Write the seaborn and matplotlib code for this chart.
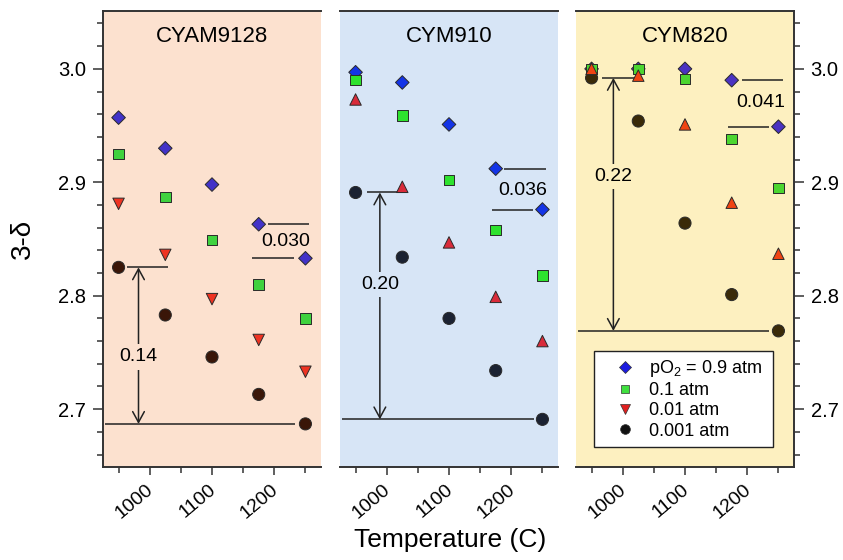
import numpy as np
import pandas as pd
import matplotlib
matplotlib.use("Agg")
import matplotlib.pyplot as plt
from matplotlib.lines import Line2D
from matplotlib.ticker import MultipleLocator, FormatStrFormatter
from matplotlib.transforms import ScaledTranslation
import seaborn as sns

# ---- data -------------------------------------------------------------
temperatures = [950, 1025, 1100, 1175, 1250]
po2_levels = ["0.9", "0.1", "0.01", "0.001"]
legend_labels = [r"pO$_2$ = 0.9 atm", "0.1 atm", "0.01 atm", "0.001 atm"]
samples = ["CYAM9128", "CYM910", "CYM820"]

cyam9128_09 = [2.957, 2.930, 2.898, 2.863, 2.833]
cyam9128_01 = [2.925, 2.887, 2.849, 2.810, 2.780]
cyam9128_001 = [2.881, 2.836, 2.797, 2.761, 2.733]
cyam9128_0001 = [2.825, 2.783, 2.746, 2.713, 2.687]

cym910_09 = [2.997, 2.988, 2.951, 2.912, 2.876]
cym910_01 = [2.990, 2.959, 2.902, 2.858, 2.818]
cym910_001 = [2.973, 2.896, 2.847, 2.799, 2.760]
cym910_0001 = [2.891, 2.834, 2.780, 2.734, 2.691]

cym820_09 = [3.000, 3.000, 3.000, 2.990, 2.949]
cym820_01 = [3.000, 3.000, 2.991, 2.938, 2.895]
cym820_001 = [3.000, 2.994, 2.951, 2.882, 2.837]
cym820_0001 = [2.992, 2.954, 2.864, 2.801, 2.769]

series = {
    "CYAM9128": {"0.9": cyam9128_09, "0.1": cyam9128_01, "0.01": cyam9128_001, "0.001": cyam9128_0001},
    "CYM910": {"0.9": cym910_09, "0.1": cym910_01, "0.01": cym910_001, "0.001": cym910_0001},
    "CYM820": {"0.9": cym820_09, "0.1": cym820_01, "0.01": cym820_001, "0.001": cym820_0001},
}

# ---- styling ----------------------------------------------------------
sns.set_theme(style="ticks")
plt.rcParams["font.family"] = ["Liberation Sans", "DejaVu Sans"]
plt.rcParams["mathtext.fontset"] = "custom"
plt.rcParams["mathtext.rm"] = "Liberation Sans"
plt.rcParams["mathtext.it"] = "Liberation Sans:italic"
for key in ["text.color", "axes.labelcolor", "xtick.labelcolor", "ytick.labelcolor"]:
    plt.rcParams[key] = "black"

panel_bg = ["#FCE1CF", "#D7E5F6", "#FDF0C0"]
panel_palettes = [
    {"0.9": "#4232C8", "0.1": "#3FD23F", "0.01": "#EE3322", "0.001": "#3A1608"},
    {"0.9": "#1434E6", "0.1": "#2EE22E", "0.01": "#D92B3A", "0.001": "#1B2232"},
    {"0.9": "#4A32C2", "0.1": "#4CD630", "0.01": "#F04412", "0.001": "#3A2A08"},
]
triangle_marker = ["v", "^", "^"]
marker_sizes = {"0.9": 48, "0.1": 58, "0.01": 68, "0.001": 76}
draw_order = ["0.001", "0.9", "0.1", "0.01"]

# bracket annotations (arrow x, top guide span, bottom guide span, label y)
left_arrow_x = [982, 989, 985]
left_top_span = [(963, 1029), (968, 1032), (966, 1021)]
left_bottom_span = [(929, 1234), (929, 1237), (929, 1235)]
left_label_y = [2.746, 2.810, 2.905]
right_upper_span = [(1190, 1256), (1189, 1255), (1192, 1258)]
right_lower_span = [(1165, 1231), (1169, 1235), (1169, 1235)]
right_label_xy = [(1218, 2.848), (1218, 2.893), (1221, 2.970)]

line_color = "#222222"
spine_color = "#333333"

fig = plt.figure(figsize=(8.43, 5.60), dpi=100)
lefts = [103 / 843, 340 / 843, 576 / 843]
width = 218 / 843
bottom = 1 - 467 / 560
height = (467 - 11) / 560
axes = [fig.add_axes([l, bottom, width, height]) for l in lefts]
label_shift = ScaledTranslation(-4 / 100, -2 / 100, fig.dpi_scale_trans)

for i, (ax, name) in enumerate(zip(axes, samples)):
    rows = []
    for lvl in draw_order:
        for t, v in zip(temperatures, series[name][lvl]):
            rows.append({"temperature": t, "value": v, "level": lvl})
    df = pd.DataFrame(rows)

    markers = {"0.9": "D", "0.1": "s", "0.01": triangle_marker[i], "0.001": "o"}
    ax.set_facecolor(panel_bg[i])
    sns.scatterplot(data=df, x="temperature", y="value", hue="level", style="level",
                    size="level", palette=panel_palettes[i], markers=markers,
                    sizes=marker_sizes, edgecolor="#2a2a2a", linewidth=0.7,
                    legend=False, ax=ax, zorder=3)

    ax.set_xlim(925, 1275)
    ax.set_ylim(2.649, 3.051)
    ax.set_xlabel("")
    ax.set_ylabel("")
    ax.xaxis.set_major_locator(MultipleLocator(100))
    ax.xaxis.set_minor_locator(MultipleLocator(50))
    ax.yaxis.set_major_locator(MultipleLocator(0.1))
    ax.yaxis.set_minor_locator(MultipleLocator(0.02))
    ax.yaxis.set_major_formatter(FormatStrFormatter("%.1f"))

    for side in ["top", "bottom", "left", "right"]:
        ax.spines[side].set_color(spine_color)
        ax.spines[side].set_linewidth(1.4)
    ax.spines["left"].set_visible(i == 0)
    ax.spines["right"].set_visible(i == 2)

    ax.tick_params(axis="x", which="major", length=6, width=1.1, color=spine_color,
                   labelsize=14, pad=3)
    ax.tick_params(axis="x", which="minor", length=4, width=1.1, color=spine_color)
    for lab in ax.get_xticklabels():
        lab.set_rotation(40)
        lab.set_ha("right")
        lab.set_va("top")
        lab.set_rotation_mode("anchor")
        lab.set_transform(lab.get_transform() + label_shift)

    if i == 0:
        ax.tick_params(axis="y", which="both", left=True, right=False, labelleft=True,
                       labelright=False, color=spine_color, width=1.1)
    elif i == 2:
        ax.yaxis.tick_right()
        ax.tick_params(axis="y", which="both", left=False, right=True, labelleft=False,
                       labelright=True, color=spine_color, width=1.1)
    else:
        ax.tick_params(axis="y", which="both", left=False, right=False,
                       labelleft=False, labelright=False)
    ax.tick_params(axis="y", which="major", length=7, labelsize=14.5, pad=5)
    ax.tick_params(axis="y", which="minor", length=4)

    ax.text(0.5, 0.945, name, transform=ax.transAxes, ha="center", va="center",
            fontsize=16)

    # total span at 950 C / 0.001 atm to 1250 C / 0.001 atm
    low = series[name]["0.001"]
    top_v, bot_v = low[0], low[-1]
    ax.hlines(top_v, *left_top_span[i], color=line_color, lw=1.1, zorder=2)
    ax.hlines(bot_v, *left_bottom_span[i], color=line_color, lw=1.1, zorder=2)
    ax.annotate("", xy=(left_arrow_x[i], bot_v), xytext=(left_arrow_x[i], top_v),
                arrowprops=dict(arrowstyle="<->,head_length=0.55,head_width=0.3",
                                lw=1.1, color=line_color, shrinkA=0, shrinkB=0,
                                mutation_scale=14), zorder=2)
    ax.text(left_arrow_x[i], left_label_y[i], f"{top_v - bot_v:.2f}", ha="center",
            va="center", fontsize=14, zorder=4,
            bbox=dict(facecolor=panel_bg[i], edgecolor="none", pad=3))

    # step between 1175 C and 1250 C at 0.9 atm
    hi = series[name]["0.9"]
    ax.hlines(hi[3], *right_upper_span[i], color=line_color, lw=1.1, zorder=2)
    ax.hlines(hi[4], *right_lower_span[i], color=line_color, lw=1.1, zorder=2)
    ax.text(*right_label_xy[i], f"{hi[3] - hi[4]:.3f}", ha="center", va="center",
            fontsize=14, zorder=4)

axes[0].set_ylabel("3-\u03b4", fontsize=20, labelpad=16)
fig.text(450 / 843, 0.035, "Temperature (C)", ha="center", va="center", fontsize=19)

legend_markers = ["D", "s", "v", "o"]
legend_colors = ["#1C1CE0", "#3FE03F", "#E02020", "#111111"]
legend_ms = [6.5, 6.0, 7.0, 7.0]
handles = [Line2D([], [], ls="none", marker=m, color=c, markerfacecolor=c,
                  markeredgecolor="#333333", markeredgewidth=0.5, markersize=s)
           for m, c, s in zip(legend_markers, legend_colors, legend_ms)]
leg = axes[2].legend(handles, legend_labels, loc="lower left",
                     bbox_to_anchor=(0.083, 0.044, 0.821, 0.213), mode="expand",
                     fontsize=13, frameon=True, fancybox=False, framealpha=1,
                     edgecolor="#222222", borderpad=0.4, labelspacing=0.18,
                     handlelength=2.6, handletextpad=0.05, borderaxespad=0)
leg.get_frame().set_linewidth(1.0)
leg.set_zorder(5)

fig.savefig("out.png", dpi=100, facecolor="white")
